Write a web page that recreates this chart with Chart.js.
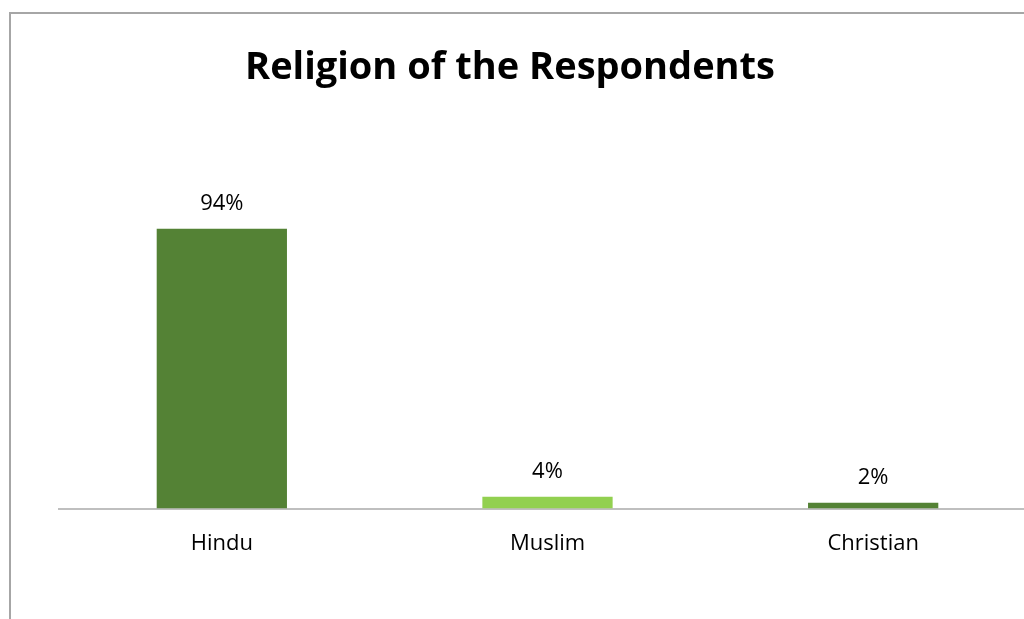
<!DOCTYPE html>
<html lang="en">
<head>
  <meta charset="UTF-8">
  <title>Religion of the Respondents</title>
  <style>
    html, body { margin: 0; padding: 0; background: #fff; overflow: hidden; width: 1024px; height: 619px; }
    #frame { position: absolute; left: 9px; top: 12px; right: -5px; bottom: -5px; border-left: 2px solid #a6a6a6; border-top: 2px solid #a6a6a6; }
    #wrap { position: absolute; left: 0; top: 0; width: 1050px; height: 619px; }
  </style>
</head>
<body>
  <div id="frame"></div>
  <div id="wrap"><canvas id="myChart"></canvas></div>
  <script src="https://cdn.jsdelivr.net/npm/chart.js"></script>
  <script>
    const categories = ['Hindu', 'Muslim', 'Christian']
    const values = [94, 4, 2]
    const valueLabels = ['94%', '4%', '2%']
    const colors = ['#548235', '#92d050', '#548235']
    const chartTitle = 'Religion of the Respondents'

    const fontFamily = '"Open Sans", "Noto Sans", sans-serif'

    // title + value labels drawn on the canvas
    const labelPlugin = {
      id: 'labels',
      afterDatasetsDraw(chart) {
        const ctx = chart.ctx
        ctx.save()
        ctx.fillStyle = '#000'
        ctx.textAlign = 'center'
        ctx.textBaseline = 'alphabetic'
        ctx.font = 'bold 38px ' + fontFamily
        ctx.fillText(chartTitle, 510, 79)
        ctx.font = '22px ' + fontFamily
        chart.getDatasetMeta(0).data.forEach((bar, i) => {
          ctx.fillText(valueLabels[i], bar.x, bar.y - 19)
        })
        ctx.restore()
      }
    }

    new Chart(document.getElementById('myChart'), {
      type: 'bar',
      data: {
        labels: categories,
        datasets: [{
          data: values,
          backgroundColor: colors,
          barPercentage: 0.8,
          categoryPercentage: 0.5
        }]
      },
      options: {
        responsive: true,
        maintainAspectRatio: false,
        animation: false,
        layout: { padding: { left: 59, right: 14, top: 211, bottom: 48 } },
        plugins: {
          legend: { display: false },
          tooltip: { enabled: false },
          title: { display: false }
        },
        scales: {
          x: {
            grid: { display: false },
            border: { display: true, color: '#bfbfbf', width: 2 },
            ticks: { color: '#000', font: { family: fontFamily, size: 22 }, padding: 14 }
          },
          y: { display: false, min: 0, max: 100 }
        }
      },
      plugins: [labelPlugin]
    })
  </script>
</body>
</html>
